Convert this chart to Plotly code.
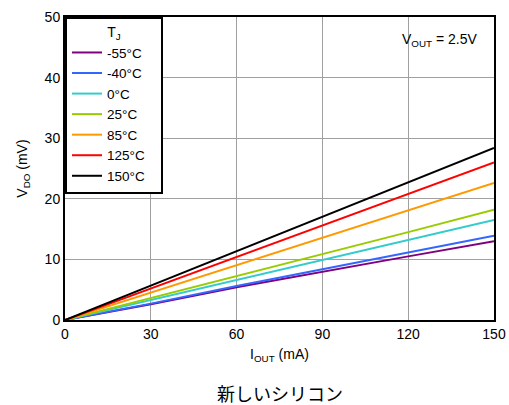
import plotly.graph_objects as go

iout = [0, 30, 60, 90, 120, 150]
temps = ["-55°C", "-40°C", "0°C", "25°C", "85°C", "125°C", "150°C"]
colors = ["#800080", "#3366ff", "#33cccc", "#99cc00", "#ff9900", "#ff0000", "#000000"]
vdo_m55 = [0, 2.6, 5.4, 8.0, 10.5, 13.0]
vdo_m40 = [0, 2.7, 5.6, 8.4, 11.2, 13.9]
vdo_0 = [0, 3.3, 6.6, 9.9, 13.2, 16.5]
vdo_25 = [0, 3.6, 7.3, 10.9, 14.5, 18.2]
vdo_85 = [0, 4.5, 9.0, 13.6, 18.1, 22.6]
vdo_125 = [0, 5.2, 10.4, 15.6, 20.8, 26.0]
vdo_150 = [0, 5.7, 11.4, 17.0, 22.7, 28.4]
series = [vdo_m55, vdo_m40, vdo_0, vdo_25, vdo_85, vdo_125, vdo_150]

fig = go.Figure()
for name, c, ys in zip(temps, colors, series):
    fig.add_trace(go.Scatter(x=iout, y=ys, mode="lines", name=name + "\u00a0" * 3,
                             line=dict(color=c, width=2)))

font = "Liberation Sans, Arial, sans-serif"
fig.update_layout(
    width=509, height=405,
    margin=dict(l=65, r=15, t=17, b=85, autoexpand=False),
    paper_bgcolor="white", plot_bgcolor="white",
    font=dict(family=font, size=14, color="black"),
    showlegend=True,
    legend=dict(
        title=dict(text="T<sub>J</sub>", side="top center", font=dict(size=14)),
        x=0, y=1, xanchor="left", yanchor="top",
        bgcolor="white", bordercolor="black", borderwidth=2,
        font=dict(size=13.5), tracegroupgap=0,
    ),
    xaxis=dict(
        range=[0, 150], tickvals=[0, 30, 60, 90, 120, 150], automargin=False,
        showgrid=True, gridcolor="#a0a0a0", gridwidth=1,
        showline=True, linecolor="black", linewidth=2, mirror=True,
        zeroline=False, ticks="",
        title=dict(text="I<sub>OUT</sub> (mA)", font=dict(size=14), standoff=8),
    ),
    yaxis=dict(
        range=[0, 50], tickvals=[0, 10, 20, 30, 40, 50], automargin=False,
        showgrid=True, gridcolor="#a0a0a0", gridwidth=1,
        showline=True, linecolor="black", linewidth=2, mirror=True,
        zeroline=False, ticks="",
        title=dict(text="V<sub>DO</sub> (mV)", font=dict(size=14), standoff=14),
    ),
    annotations=[
        dict(text="V<sub>OUT</sub> = 2.5V", x=0.965, y=0.925, xref="paper", yref="paper",
             xanchor="right", yanchor="middle", showarrow=False, font=dict(size=14)),
        dict(text="新しいシリコン", x=0.5, y=-0.241, xref="paper", yref="paper",
             xanchor="center", yanchor="middle", showarrow=False,
             font=dict(size=18, family="Noto Sans CJK JP")),
    ],
)
fig.write_html("out.html")
